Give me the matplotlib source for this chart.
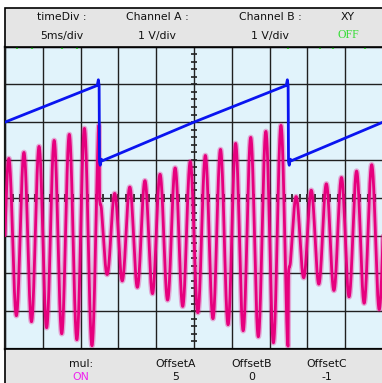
"""oscilloscope screen: sawtooth channel A and product trace"""

import numpy as np
import matplotlib.pyplot as plt
from matplotlib.patches import Rectangle

W, H = 382, 383  # px

# channel A sawtooth, one period (time in div, value in div)
sawT = [0.0, 2.44, 2.47, 2.49, 2.50, 2.52, 2.55, 2.58, 5.0]
sawV = [2.0, 2.97, 3.12, 2.96, 0.95, 0.86, 1.02, 0.98, 2.0]
nPeriods = 2
sawPeriod = 5.0

# channel B carrier and product offset
carrierPeriod = 0.4  # div
carrierAmp = 1.0
offsetC = -1.0

# small green marks seen on the top edge (div)
greenT = [0.32, 0.71, 1.51, 1.90, 7.49, 8.33, 8.68, 9.52]

headTop = ["timeDiv :", "Channel A :", "Channel B :", "XY"]
headBot = ["5ms/div", "1 V/div", "1 V/div", "OFF"]
headX = [62, 157, 270, 348]
footTop = ["mul:", "OffsetA", "OffsetB", "OffsetC"]
footBot = ["ON", "5", "0", "-1"]
footX = [81, 176, 252, 327]

# build traces
tA = np.concatenate([np.array(sawT[:-1]) + k*sawPeriod for k in range(nPeriods)] + [[nPeriods*sawPeriod]]);
vA = np.concatenate([sawV[:-1]]*nPeriods + [[sawV[-1]]]);
t = np.linspace(0, nPeriods*sawPeriod, 6000);
env = np.interp(t, tA, vA);
mul = offsetC + env*carrierAmp*np.sin(2*np.pi*t/carrierPeriod);

def fx(x): return x/W
def fy(y): return 1 - y/H

fig = plt.figure(figsize=(W/100, H/100), dpi=100);
fig.patch.set_facecolor("white");

# header / footer boxes
fig.patches.append(Rectangle((fx(5), fy(46.5)), 1, fy(8)-fy(46.5), transform=fig.transFigure,
                             facecolor="#e5e5e5", edgecolor="black", lw=1.2, zorder=0));
fig.patches.append(Rectangle((fx(5), fy(400)), 1, fy(349)-fy(400), transform=fig.transFigure,
                             facecolor="#e5e5e5", edgecolor="black", lw=1.2, zorder=0));

ax = fig.add_axes([fx(5), fy(349), 378/W, (349-46.5)/H]);
ax.set_facecolor("#e1f3fb");
ax.set_xlim(0, 10);
ax.set_ylim(-4, 4);
ax.set_xticks(np.arange(0, 11));
ax.set_yticks(np.arange(-4, 5));
ax.tick_params(length=0, labelbottom=False, labelleft=False);
ax.grid(True, color="#202020", lw=1.0);
for s in ax.spines.values():
    s.set_color("#1a1a1a"); s.set_linewidth(1.6);

# center cross ticks
tk = np.arange(-4, 4.01, 0.2);
ax.hlines(tk, 4.91, 5.09, color="#222222", lw=1.2, zorder=2);
tk = np.arange(0, 10.01, 0.2);
ax.vlines(tk, -0.1, 0.1, color="#333333", lw=1.4, zorder=2);

ax.vlines(greenT, 3.93, 4.0, color="#33cc33", lw=1.5, zorder=6);

ax.plot(t, mul, color="#e6007e", lw=4.0, alpha=0.3, zorder=3, solid_capstyle="butt");
ax.plot(t, mul, color="#e6007e", lw=2.0, zorder=4);
ax.plot(tA, vA, color="#0a14f0", lw=2.0, zorder=5);

for x, a, b in zip(headX, headTop, headBot):
    fig.text(fx(x), fy(17), a, ha="center", va="center", fontsize=7.8, color="#111111");
    if b == "OFF":
        fig.text(fx(x), fy(35.5), b, ha="center", va="center", fontsize=8.5, color="#33dd33", family="Liberation Serif");
    else:
        fig.text(fx(x), fy(35.5), b, ha="center", va="center", fontsize=7.8, color="#111111");
for x, a, b in zip(footX, footTop, footBot):
    fig.text(fx(x), fy(364), a, ha="center", va="center", fontsize=7.8, color="#111111");
    fig.text(fx(x), fy(376.5), b, ha="center", va="center", fontsize=7.8,
             color="#ee22ee" if b == "ON" else "#111111");

fig.savefig("out.png", dpi=100);
